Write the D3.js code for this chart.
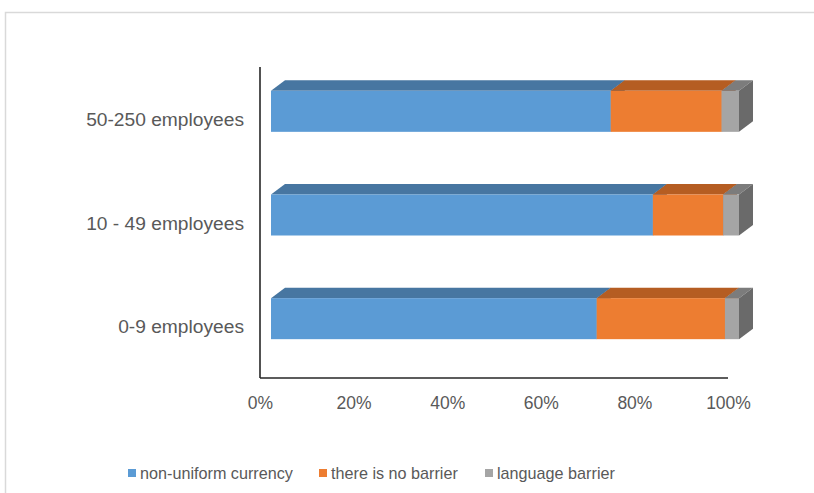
<!DOCTYPE html>
<html>
<head>
<meta charset="utf-8">
<script src="https://cdn.jsdelivr.net/npm/d3@7"></script>
<style>
    html, body { margin: 0; padding: 0; background: #fff; }
    text { font-family: "Liberation Sans", Arial, sans-serif; fill: #595959; }
</style>
</head>
<body>
<div class="main"></div>
<script>

const categories = ["50-250 employees", "10 - 49 employees", "0-9 employees"]
const seriesNames = ["non-uniform currency", "there is no barrier", "language barrier"]
const currency = [72.6, 81.6, 69.6]
const noBarrier = [23.7, 15.0, 27.4]
const language = [3.7, 3.4, 3.0]
const ticks = [0, 20, 40, 60, 80, 100]

const colors = {
    front: ["#5b9bd5", "#ed7d31", "#a5a5a5"],
    top: ["#4776a1", "#b55d22", "#7c7c7c"],
    side: ["#3f6a93", "#a35420", "#6a6a6a"]
}

const chart = () => {

    ////////////
    // CANVAS //
    ////////////

    const w = 814
    const h = 493
    const depth = { dx: 14, dy: -10.5 }
    const barH = 41

    const svg = d3.select(".main")
        .append("svg")
        .attr("width", w)
        .attr("height", h)

    svg.append("rect")
        .attr("x", 5.5)
        .attr("y", 12.5)
        .attr("width", 900)
        .attr("height", 600)
        .attr("fill", "#fff")
        .attr("stroke", "#d9d9d9")
        .attr("stroke-width", 1.5)

    ////////////
    // SCALES //
    ////////////

    const xScale = d3.scaleLinear()
        .domain([0, 100])
        .range([260, 728])

    const yScale = d3.scaleBand()
        .domain(categories)
        .range([67, 378])

    const rows = categories.map((c, i) => ({
        cat: c,
        [seriesNames[0]]: currency[i],
        [seriesNames[1]]: noBarrier[i],
        [seriesNames[2]]: language[i]
    }))

    const stacked = d3.stack().keys(seriesNames)(rows)

    //////////
    // AXES //
    //////////

    svg.append("line")
        .attr("x1", 260).attr("x2", 260)
        .attr("y1", 67).attr("y2", 378)
        .attr("stroke", "#262626")
        .attr("stroke-width", 1.6)

    svg.append("line")
        .attr("x1", 260).attr("x2", 728)
        .attr("y1", 378).attr("y2", 378)
        .attr("stroke", "#262626")
        .attr("stroke-width", 1.6)

    const xAxis = d3.axisBottom(xScale)
        .tickValues(ticks)
        .tickSize(0)
        .tickPadding(0)
        .tickFormat(d => d + "%")

    svg.append("g")
        .attr("transform", "translate(0, 400)")
        .call(xAxis)
        .call(g => g.select(".domain").remove())
        .selectAll("text")
        .attr("font-size", 17.5)
        .attr("dy", "0.5em")
        .style("font-family", "'Liberation Sans', Arial, sans-serif")
        .attr("fill", "#595959")

    const yAxis = d3.axisLeft(yScale)
        .tickSize(0)
        .tickPadding(16)

    svg.append("g")
        .attr("transform", "translate(260, 1)")
        .call(yAxis)
        .call(g => g.select(".domain").remove())
        .selectAll("text")
        .attr("font-size", 19.2)
        .style("font-family", "'Liberation Sans', Arial, sans-serif")
        .attr("fill", "#595959")

    //////////
    // BARS //
    //////////

    const bars = svg.append("g").attr("transform", "translate(11, 0)")

    categories.forEach((c, ci) => {
        const y0 = yScale(c) + yScale.bandwidth() / 2 - 28
        stacked.forEach((s, si) => {
            const x0 = xScale(s[ci][0])
            const x1 = xScale(s[ci][1])
            const g = bars.append("g")
            g.append("polygon")
                .attr("points", [[x0, y0], [x0 + depth.dx, y0 + depth.dy], [x1 + depth.dx, y0 + depth.dy], [x1, y0]].join(" "))
                .attr("fill", colors.top[si])
            g.append("rect")
                .attr("x", x0)
                .attr("y", y0)
                .attr("width", x1 - x0)
                .attr("height", barH)
                .attr("fill", colors.front[si])
            g.append("polygon")
                .attr("points", [[x1, y0], [x1 + depth.dx, y0 + depth.dy], [x1 + depth.dx, y0 + barH + depth.dy], [x1, y0 + barH]].join(" "))
                .attr("fill", colors.side[si])
        })
    })

    ////////////
    // LEGEND //
    ////////////

    const legendX = [128, 319, 485]
    const legend = svg.append("g")
        .selectAll("g")
        .data(seriesNames)
        .enter()
        .append("g")
        .attr("transform", (d, i) => `translate(${legendX[i]}, 473)`)

    legend.append("rect")
        .attr("x", 0)
        .attr("y", -4)
        .attr("width", 8)
        .attr("height", 8)
        .attr("fill", (d, i) => colors.front[i])

    legend.append("text")
        .text(d => d)
        .attr("x", 12)
        .attr("dy", "0.35em")
        .attr("font-size", 16.2)
}

chart()

</script>
</body>
</html>
